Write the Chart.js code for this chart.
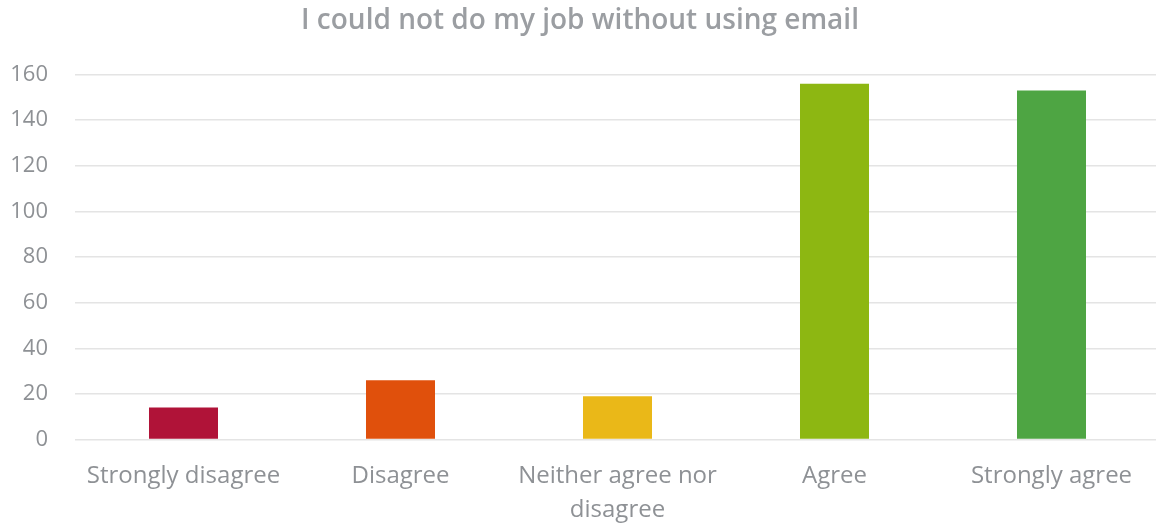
<!DOCTYPE html>
<html>
<head>
<meta charset="utf-8">
<script src="https://cdn.jsdelivr.net/npm/chart.js"></script>
<style>
  body { margin: 0; background: #fff; overflow: hidden; }
  #wrap { width: 1156px; height: 524px; overflow: hidden; }
  canvas { display: block; }
</style>
</head>
<body>
<!-- canvas is a little wider than the frame so the gridlines run off the right edge -->
<div id="wrap"><canvas id="myChart" width="1164" height="524"></canvas></div>
<script>
const categories = ['Strongly disagree', 'Disagree', ['Neither agree nor', 'disagree'], 'Agree', 'Strongly agree'];
const responses = [14, 26, 19, 156, 153];
const barColors = ['#b01338', '#e0500c', '#eab818', '#8db712', '#4ea543'];
const yTicks = [0, 20, 40, 60, 80, 100, 120, 140, 160];

const ctx = document.getElementById('myChart').getContext('2d');
const textGray = '#8e9195';

new Chart(ctx, {
    type: 'bar',
    data: {
        labels: categories,
        datasets: [{
            label: 'Responses',
            data: responses,
            backgroundColor: barColors,
            borderWidth: 0,
            barPercentage: 0.318,
            categoryPercentage: 1
        }]
    },
    options: {
        responsive: false,
        animation: false,
        layout: { padding: { left: 0, right: 4, top: 4, bottom: 0 } },
        plugins: {
            legend: { display: false },
            tooltip: { enabled: false },
            title: {
                display: true,
                text: 'I could not do my job without using email',
                color: '#9b9ea2',
                font: { family: 'Open Sans', size: 28, weight: '600' },
                padding: { top: 0, bottom: 37 }
            }
        },
        scales: {
            y: {
                min: yTicks[0],
                max: yTicks[yTicks.length - 1],
                afterBuildTicks: axis => { axis.ticks = yTicks.map(v => ({ value: v })); },
                afterFit: axis => { axis.width = 75; },
                border: { display: false },
                grid: { color: '#e4e4e4', lineWidth: 1.5, drawTicks: false },
                ticks: {
                    color: textGray,
                    padding: 27,
                    font: { family: 'Open Sans', size: 22 }
                }
            },
            x: {
                afterFit: axis => { axis.height = 84.5; },
                border: { display: false },
                grid: { display: false },
                ticks: {
                    color: textGray,
                    padding: 12,
                    maxRotation: 0,
                    font: { family: 'Open Sans', size: 24, lineHeight: 1.4 }
                }
            }
        }
    }
});
</script>
</body>
</html>
